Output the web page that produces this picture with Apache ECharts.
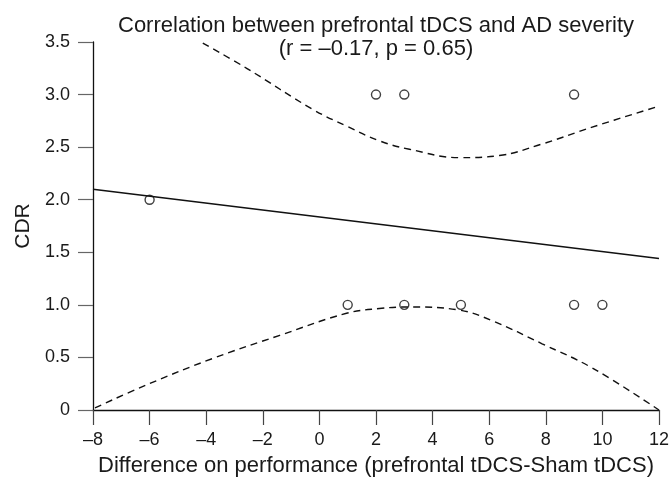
<!DOCTYPE html>
<html><head><meta charset="utf-8">
<script src="https://cdn.jsdelivr.net/npm/echarts@6/dist/echarts.min.js"></script>
<style>html,body{margin:0;padding:0;background:#fff}#c{width:672px;height:482px}</style>
</head><body><div id="c"></div>
<script>
const titleLines = ["Correlation between prefrontal tDCS and AD severity", "(r = \u20130.17, p = 0.65)"];
const xName = "Difference on performance (prefrontal tDCS-Sham tDCS)";
const yName = "CDR";
const pointsX = [-6, 2, 3, 9, 1, 3, 5, 9, 10];
const pointsY = [2, 3, 3, 3, 1, 1, 1, 1, 1];
const fitX = [-8, 12];
const fitY = [2.1, 1.44];
const upperX = [-4.12, -2.57, -0.24, 0.96, 2.12, 3.18, 4.95, 6.36, 7.87, 9.64, 12];
const upperY = [3.49, 3.25, 2.86, 2.70, 2.56, 2.48, 2.40, 2.42, 2.53, 2.69, 2.89];
const lowerX = [-7.93, -6.1, -3.77, -1.4, 0.96, 2.12, 3.18, 4.95, 6.1, 7.87, 9.64, 12];
const lowerY = [0.02, 0.24, 0.49, 0.71, 0.92, 0.965, 0.98, 0.95, 0.85, 0.63, 0.40, 0.0];

const zip = (a, b) => a.map((v, i) => [v, b[i]]);
const font = "'Liberation Sans', Arial, sans-serif";
const chart = echarts.init(document.getElementById('c'), null, {renderer: 'canvas'});
const dashStyle = {color: '#111', width: 1.4, type: [7, 5]};
chart.setOption({
  animation: false,
  title: [
    {text: titleLines[0], left: 371, top: 10, textAlign: 'center', textStyle: {fontFamily: font, fontSize: 22, fontWeight: 'normal', color: '#1a1a1a'}},
    {text: titleLines[1], left: 371, top: 33, textAlign: 'center', textStyle: {fontFamily: font, fontSize: 22, fontWeight: 'normal', color: '#1a1a1a'}}
  ],
  grid: {left: 93, right: 12, top: 42, bottom: 70},
  xAxis: {
    type: 'value', min: -8, max: 12, interval: 2,
    name: xName, nameLocation: 'middle', nameGap: 45,
    nameTextStyle: {fontFamily: font, fontSize: 22, color: '#1a1a1a'},
    axisLine: {onZero: false, lineStyle: {color: '#111', width: 1.3}},
    axisTick: {show: true, length: 15, inside: false, lineStyle: {color: '#444', width: 1.2}},
    axisLabel: {fontFamily: font, fontSize: 18, color: '#1a1a1a', margin: 21,
      formatter: v => String(v).replace('-', '\u2013')},
    splitLine: {show: false}
  },
  yAxis: {
    type: 'value', min: 0, max: 3.5, interval: 0.5,
    name: yName, nameLocation: 'middle', nameGap: 59, nameRotate: 90, nameMoveOverlap: false,
    nameTextStyle: {fontFamily: font, fontSize: 21, color: '#1a1a1a'},
    axisLine: {show: true, onZero: false, lineStyle: {color: '#111', width: 1.3}},
    axisTick: {show: true, length: 15, inside: false, lineStyle: {color: '#666', width: 1.2}},
    axisLabel: {fontFamily: font, fontSize: 18, color: '#1a1a1a', margin: 23,
      formatter: v => v === 0 ? '0' : v.toFixed(1)},
    splitLine: {show: false}
  },
  series: [
    {type: 'line', data: zip(fitX, fitY), showSymbol: false, lineStyle: {color: '#111', width: 1.5}},
    {type: 'line', data: zip(upperX, upperY), smooth: 0.4, showSymbol: false, lineStyle: dashStyle},
    {type: 'line', data: zip(lowerX, lowerY), smooth: 0.4, showSymbol: false, lineStyle: dashStyle},
    {type: 'scatter', data: zip(pointsX, pointsY), symbol: 'circle', symbolSize: 9,
      itemStyle: {color: '#fff', borderColor: '#111', borderWidth: 1.4}}
  ]
});
</script></body></html>
